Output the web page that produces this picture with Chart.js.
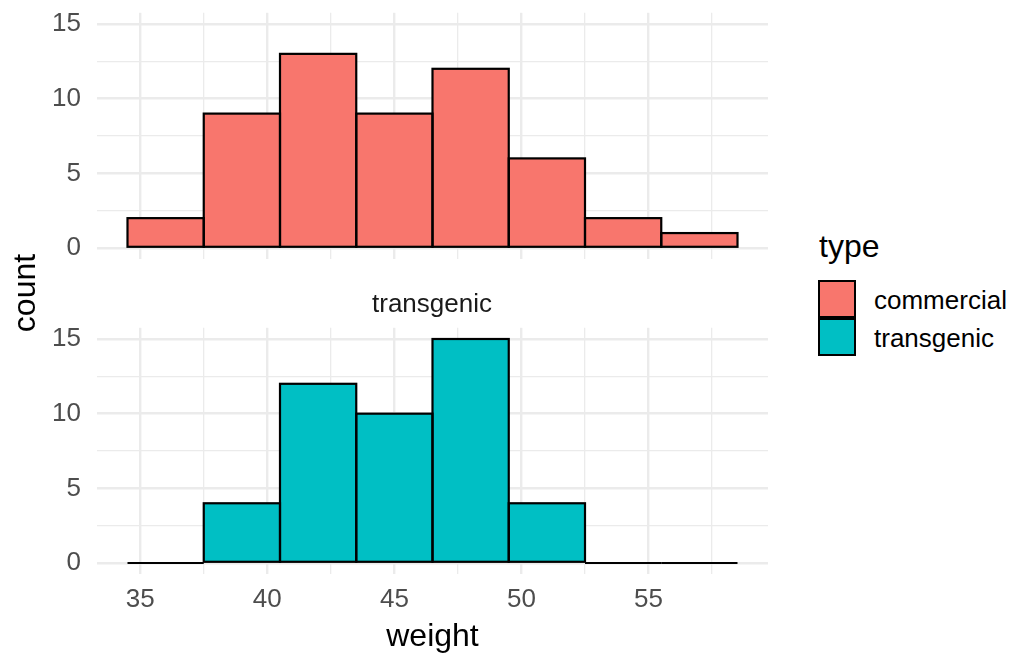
<!DOCTYPE html>
<html>
<head>
<meta charset="utf-8">
<script src="https://cdn.jsdelivr.net/npm/chart.js@4"></script>
<style>
  html, body { margin: 0; padding: 0; background: #fff; }
  body { width: 1015px; height: 655px; position: relative; overflow: hidden;
         font-family: "Liberation Sans", Arial, sans-serif; }
  canvas { position: absolute; left: 0; }
  .txt { position: absolute; white-space: nowrap; }
  .key { position: absolute; left: 818px; width: 38px; height: 38px; box-sizing: border-box;
         border: 2.4px solid #000; }
</style>
</head>
<body>
<canvas id="top-panel" width="800" height="262" style="top:0"></canvas>
<canvas id="bottom-panel" width="800" height="340" style="top:315px"></canvas>

<div class="txt" id="strip" style="left:332px; width:200px; text-align:center; top:290px; font-size:26px; line-height:26px; color:#1a1a1a;">transgenic</div>
<div class="txt" id="ytitle" style="left:-76px; width:200px; text-align:center; top:277px; font-size:32px; line-height:32px; color:#000; transform:rotate(-90deg);">count</div>

<div class="txt" style="left:819px; top:230px; font-size:32px; line-height:32px;">type</div>
<div class="key" style="top:280px; background:#F8766D;"></div>
<div class="key" style="top:318px; background:#00BFC4;"></div>
<div class="txt" style="left:874px; top:287px; font-size:26px; line-height:26px;">commercial</div>
<div class="txt" style="left:874px; top:325px; font-size:26px; line-height:26px;">transgenic</div>

<script>
const binCenters = [36, 39, 42, 45, 48, 51, 54, 57];
const commercialCounts = [2, 9, 13, 9, 12, 6, 2, 1];
const transgenicCounts = [0, 4, 12, 10, 15, 4, 0, 0];
const binWidth = 3;

const xLabels = [35, 40, 45, 50, 55];
const xGrid = [35, 37.5, 40, 42.5, 45, 47.5, 50, 52.5, 55, 57.5];
const gridStep = 2.5;
const yLabels = [0, 5, 10, 15];
const yGrid = [0, 2.5, 5, 7.5, 10, 12.5, 15];

const FONT = "'Liberation Sans', Arial, sans-serif";
Chart.defaults.font.family = FONT;

// ggplot-style outlines: stroke each bar centred on its edge (zero bins become a line)
const barOutline = {
  id: 'barOutline',
  afterDatasetsDraw(chart) {
    const ctx = chart.ctx;
    ctx.save();
    ctx.strokeStyle = '#000';
    ctx.lineWidth = 2.2;
    chart.getSortedVisibleDatasetMetas().forEach((meta) => {
      meta.data.forEach((bar) => {
        const { x, y, base, width } = bar.getProps(['x', 'y', 'base', 'width'], true);
        ctx.strokeRect(x - width / 2, y, width, base - y);
      });
    });
    ctx.restore();
  },
};

function gridWidth(major) {
  return (ctx) => (ctx.tick && major.includes(ctx.tick.value) ? 2.4 : 1.3);
}

function makePanel(canvasId, counts, color, showX) {
  const xAxis = {
    type: 'linear',
    min: 33.3,
    max: 59.7,
    offset: false,
    afterBuildTicks: (scale) => { scale.ticks = xGrid.map((v) => ({ value: v })); },
    afterFit: (scale) => {
      scale.height = showX ? 80.8 : 0;
      scale.paddingLeft = 0;
      scale.paddingRight = 0;
    },
    grid: { color: '#ebebeb', lineWidth: gridWidth(xLabels), drawTicks: false, offset: false },
    border: { display: false },
    ticks: {
      display: showX,
      autoSkip: false,
      maxRotation: 0,
      padding: 10,
      color: '#4d4d4d',
      font: { size: 26 },
      callback: (v) => (xLabels.includes(v) ? String(v) : ''),
    },
    title: {
      display: showX,
      text: 'weight',
      color: '#000',
      font: { size: 32, lineHeight: 1 },
      padding: { top: 0, bottom: 2 },
    },
  };

  const yAxis = {
    type: 'linear',
    min: -0.75,
    max: 15.75,
    afterBuildTicks: (scale) => { scale.ticks = yGrid.map((v) => ({ value: v })); },
    afterFit: (scale) => {
      scale.width = 97;
      scale.paddingTop = 0;
      scale.paddingBottom = 0;
    },
    grid: { color: '#ebebeb', lineWidth: gridWidth(yLabels), drawTicks: false },
    border: { display: false },
    ticks: {
      padding: 16,
      color: '#4d4d4d',
      font: { size: 26 },
      callback: (v) => (yLabels.includes(v) ? String(v) : ''),
    },
  };

  return new Chart(document.getElementById(canvasId), {
    type: 'bar',
    data: {
      datasets: [{
        data: binCenters.map((c, i) => ({ x: c, y: counts[i] })),
        backgroundColor: color,
        borderWidth: 0,
        barPercentage: 1,
        // the bar ruler uses the grid tick spacing, so stretch bars to the full bin width
        categoryPercentage: binWidth / gridStep,
      }],
    },
    options: {
      responsive: false,
      animation: false,
      devicePixelRatio: 1,
      layout: {
        padding: { left: 0, right: 32, top: 12.8, bottom: showX ? 0 : 2.8 },
      },
      plugins: { legend: { display: false }, tooltip: { enabled: false } },
      scales: { x: xAxis, y: yAxis },
    },
    plugins: [barOutline],
  });
}

makePanel('top-panel', commercialCounts, '#F8766D', false);
makePanel('bottom-panel', transgenicCounts, '#00BFC4', true);
</script>
</body>
</html>
